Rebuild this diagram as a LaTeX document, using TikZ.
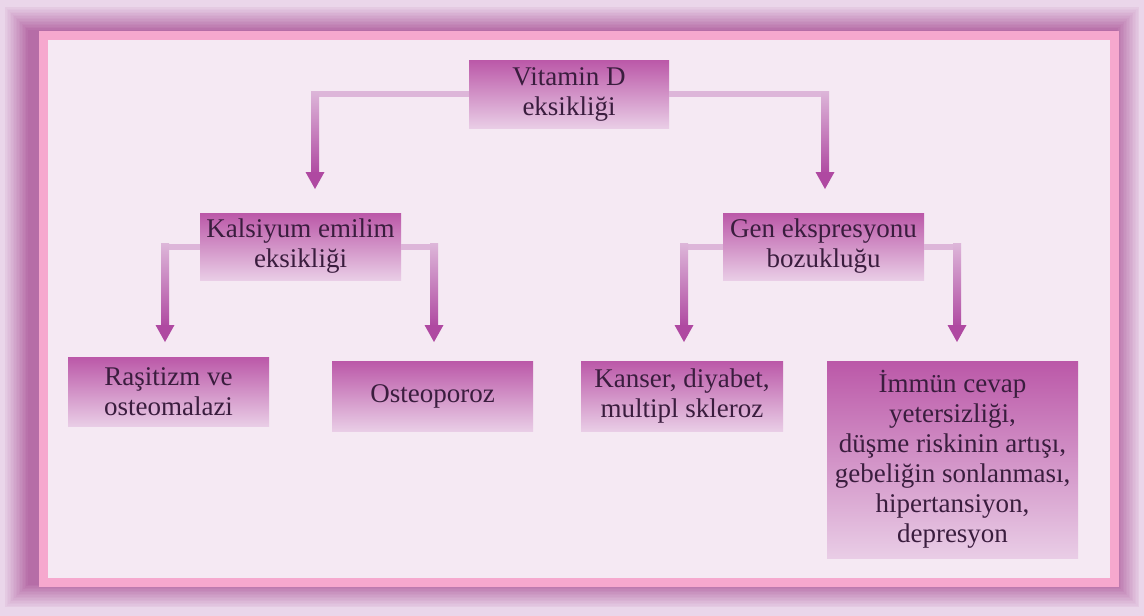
\documentclass[tikz,border=0pt]{standalone}
\usepackage{fontspec}
\setmainfont{Liberation Serif}
\usetikzlibrary{calc}
\definecolor{outerbg}{HTML}{EAD6EA}
\definecolor{framepurple}{HTML}{B0609F}
\definecolor{pinkline}{HTML}{F6A8CE}
\definecolor{innerbg}{HTML}{F5E9F3}
\definecolor{boxtop}{HTML}{BB58A8}
\definecolor{boxbot}{HTML}{E9CDE6}
\definecolor{connlight}{HTML}{DDB6D9}
\definecolor{conndark}{HTML}{AF49A1}
\definecolor{txt}{HTML}{3A1D3E}
\tikzset{
  box/.style={rectangle, top color=boxtop, bottom color=boxbot, draw=none,
    text=txt, align=center, inner sep=2pt,
    font=\fontsize{27}{30}\selectfont},
  hconn/.style={draw=connlight, line width=6pt},
}
\newcommand{\myconn}[2]{%
  \draw[hconn] (#1) -- (#1 -| #2);
  \shade[top color=connlight, bottom color=conndark]
    ($(#1 -| #2)+(-4,-3)$) rectangle ($(#2)+(4,-15)$);
  \fill[conndark] ($(#2)+(-9.5,-17)$) -- ($(#2)+(9.5,-17)$) -- (#2) -- cycle;
}
\begin{document}
\begin{tikzpicture}[x=1pt,y=-1pt]
\useasboundingbox (0,0) rectangle (1144,616);
% background and frame
\fill[outerbg] (0,0) rectangle (1144,616);
\foreach \k in {0,...,15}{
  \pgfmathsetmacro{\p}{int(10+\k*5.3)}
  \pgfmathsetmacro{\d}{\k*1.5}
  \fill[framepurple!\p!outerbg] ($(5,7)+(\d,\d)$) rectangle ($(1139,607)-(\d,\d)$);
}
\fill[pinkline] (39,31) rectangle (1119,587);
\fill[innerbg] (48,40) rectangle (1110,578);
% nodes
\node[box, minimum width=200pt, minimum height=68pt] (vit) at (569,94) {Vitamin D\\eksikliği};
\node[box, minimum width=201pt, minimum height=67pt] (kal) at (300.5,246.5) {Kalsiyum emilim\\eksikliği};
\node[box, minimum width=201pt, minimum height=67pt] (gen) at (823.5,246.5) {Gen ekspresyonu\\bozukluğu};
\node[box, minimum width=201pt, minimum height=69pt] (ras) at (168.5,391.5) {Raşitizm ve\\osteomalazi};
\node[box, minimum width=201pt, minimum height=70pt] (ost) at (432.5,396) {Osteoporoz};
\node[box, minimum width=202pt, minimum height=70pt] (kan) at (682,396) {Kanser, diyabet,\\multipl skleroz};
\node[box, minimum width=251pt, minimum height=197pt] (imm) at (952.5,459.5) {İmmün cevap\\yetersizliği,\\düşme riskinin artışı,\\gebeliğin sonlanması,\\hipertansiyon,\\depresyon};
% arrow tips
\coordinate (t1) at (315,189);
\coordinate (t2) at (825,189);
\coordinate (t3) at (165,342);
\coordinate (t4) at (434,342);
\coordinate (t5) at (684,342);
\coordinate (t6) at (957,342);
% connectors
\myconn{vit.west}{t1}
\myconn{vit.east}{t2}
\myconn{kal.west}{t3}
\myconn{kal.east}{t4}
\myconn{gen.west}{t5}
\myconn{gen.east}{t6}
\end{tikzpicture}
\end{document}
